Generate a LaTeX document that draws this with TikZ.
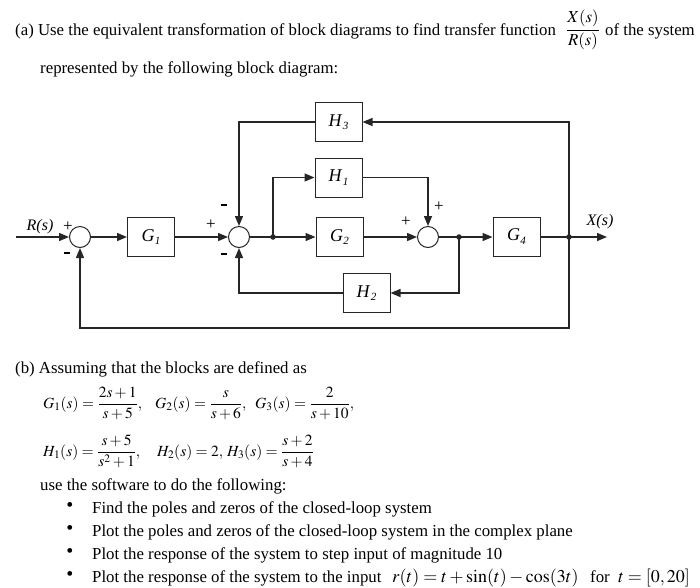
\documentclass[tikz,border=0pt]{standalone}
\usepackage{mathptmx}
\usepackage{fontspec}
\setmainfont{Liberation Serif}
\usetikzlibrary{arrows.meta}
\newcommand\blab[2]{\textit{#1}\kern0.3pt\raisebox{-3.5pt}{\fontsize{11}{11}\selectfont\textit{#2}}}
\newcommand\minussign{\rule[4pt]{6.5pt}{2.4pt}}
\begin{document}
\begin{tikzpicture}[x=1pt,y=-1pt, font=\fontsize{16.8}{19}\selectfont,
  blk/.style={draw=black!85, line width=1pt, minimum width=47pt, minimum height=39pt, inner sep=0pt, font=\fontsize{18}{20}\selectfont},
  sumc/.style={draw=black!85, circle, line width=1pt, minimum size=21pt, inner sep=0pt},
  wire/.style={draw=black!85, line width=1.4pt},
  arr/.style={wire, -{Triangle[length=10pt,width=8pt]}},
  dot/.style={circle, fill=black!85, inner sep=0pt, minimum size=5.5pt},
  lbl/.style={font=\fontsize{16}{18}\selectfont\itshape, inner sep=0pt},
  sgn/.style={font=\fontsize{17}{18}\selectfont, inner sep=0pt},
  txt/.style={anchor=base west, inner sep=0pt},
  eq/.style={anchor=base west, inner sep=0pt, font=\fontsize{15.5}{18}\selectfont},
  bul/.style={anchor=center, inner sep=0pt, font=\fontsize{20}{20}\selectfont}
]
\useasboundingbox (0,0) rectangle (700,587);

% ---- heading text
\node[txt] (t1) at (15,35) {(a) Use the equivalent transformation of block diagrams to find transfer function};
\node[anchor=center, inner sep=0pt] (tf) at (583,30) {$\displaystyle\frac{X(s)}{R(s)}$};
\node[txt] (t2) at (605,35) {of the system};
\node[txt] (t3) at (40,73) {represented by the following block diagram:};

% ---- block diagram
\coordinate (in) at (16,237);
\node[sumc] (s1) at (80,237) {};
\node[blk] (g1) at (151,237) {\blab{G}{1}};
\node[sumc] (s2) at (239,237) {};
\coordinate (b1) at (273,237);
\node[blk] (h3) at (338.5,122) {\blab{H}{3}};
\node[blk] (h1) at (338.5,177.5) {\blab{H}{1}};
\node[blk] (g2) at (339.5,237) {\blab{G}{2}};
\node[blk] (h2) at (366.5,293) {\blab{H}{2}};
\node[sumc] (s3) at (428,237) {};
\coordinate (b2) at (459,237);
\node[blk] (g4) at (516.5,236.5) {\blab{G}{4}};
\coordinate (b3) at (569,237);
\coordinate (out) at (607,237);
\coordinate (bot) at (569,328);

\draw[arr] (in) -- (s1);
\draw[arr] (s1) -- (g1);
\draw[arr] (g1) -- (s2);
\draw[wire] (s2) -- (b1);
\draw[arr] (b1) -- (g2);
\draw[arr] (b1) |- (h1);
\draw[arr] (h1) -| (s3);
\draw[arr] (g2) -- (s3);
\draw[wire] (s3) -- (b2);
\draw[arr] (b2) -- (g4.west |- b2);
\draw[arr] (b2) |- (h2);
\draw[arr] (h2) -| (s2);
\draw[wire] (g4.east |- b3) -- (b3);
\draw[arr] (b3) -- (out);
\draw[arr] (b3) |- (h3);
\draw[arr] (h3) -| (s2);
\draw[arr] (b3) -- (bot) -| (s1);

\node[dot] (d1) at (b1) {};
\node[dot] (d2) at (b2) {};
\node[dot] (d3) at (b3) {};

\node[lbl] (rl) at (40,227) {R(s)};
\node[lbl] (xl) at (600,222) {X(s)};
\node[sgn] (p1) at (68,227) {+};
\node[sgn] (m1) at (67,255) {\minussign};
\node[sgn] (p2) at (211,225) {+};
\node[sgn] (m2) at (224,207) {\minussign};
\node[sgn] (m3) at (224,256) {\minussign};
\node[sgn] (p3) at (439,207) {+};
\node[sgn] (p4) at (406,222) {+};

% ---- part (b)
\node[txt] (b0) at (15,373) {(b) Assuming that the blocks are defined as};
\node[eq] (e1) at (43,408) {$\displaystyle G_1(s)=\frac{2s+1}{s+5},$};
\node[eq] (e2) at (155,408) {$\displaystyle G_2(s)=\frac{s}{s+6},$};
\node[eq] (e3) at (255,408) {$\displaystyle G_3(s)=\frac{2}{s+10},$};
\node[eq] (e4) at (43,456) {$\displaystyle H_1(s)=\frac{s+5}{s^2+1},$};
\node[eq] (e5) at (157,456) {$\displaystyle H_2(s)=2,$};
\node[eq] (e6) at (227,456) {$\displaystyle H_3(s)=\frac{s+2}{s+4}$};
\node[txt] (u0) at (40,490) {use the software to do the following:};
\node[bul] (k1) at (70,507) {•};
\node[bul] (k2) at (70,530) {•};
\node[bul] (k3) at (70,553) {•};
\node[bul] (k4) at (70,576) {•};
\node[txt] (l1) at (92,513) {Find the poles and zeros of the closed-loop system};
\node[txt] (l2) at (92,536) {Plot the poles and zeros of the closed-loop system in the complex plane};
\node[txt] (l3) at (92,559) {Plot the response of the system to step input of magnitude 10};
\node[txt] (l4) at (92,582) {Plot the response of the system to the input};
\node[txt, font=\fontsize{18}{20}\selectfont] (l4m) at (392,582) {$r(t)=t+\sin(t)-\cos(3t)$};
\node[txt] (l4f) at (590,582) {for};
\node[txt, font=\fontsize{18}{20}\selectfont] (l4t) at (618,582) {$t=[0,20]$};
\end{tikzpicture}
\end{document}
